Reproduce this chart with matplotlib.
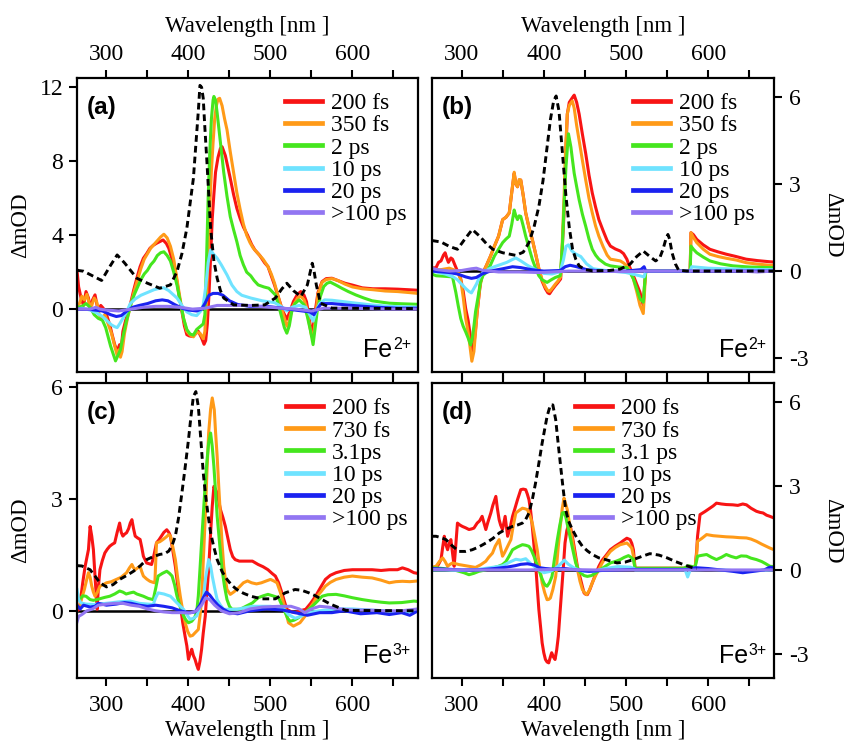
import matplotlib
matplotlib.use('Agg')
import matplotlib.pyplot as plt
from matplotlib.ticker import FixedLocator

plt.rcParams['font.family'] = 'Liberation Serif'
plt.rcParams['axes.unicode_minus'] = False

# ---------------- data (wavelength nm, dmOD) ----------------
labels_ab = ['200 fs', '350 fs', '2 ps', '10 ps', '20 ps', '>100 ps']
labels_c = ['200 fs', '730 fs', '3.1ps', '10 ps', '20 ps', '>100 ps']
labels_d = ['200 fs', '730 fs', '3.1 ps', '10 ps', '20 ps', '>100 ps']
colors = ['#f81414', '#ff9a18', '#45e61e', '#6fe3ff', '#1a22f0', '#9276f2']

# panel (a)
a_dash = [(264,2.1),(272,2.05),(283,1.8),(294,1.55),(304,2.3),(313,2.93),(322,2.5),(337,1.67),(350,1.4),(365,1.13),(378,1.31),(386,2.03),(392,3.0),(398,4.37),(406,7.07),(410,9.5),(412,10.7),(414,12.1),(416,12.0),(418,11.4),(420,9.8),(422.5,7.97),(427,4.37),(431,2.6),(435,1.67),(439,1.0),(443,0.6),(455,0.23),(476,0.2),(493,0.23),(506,0.6),(514,1.1),(520,1.4),(528,1.0),(537,0.68),(545,1.31),(549,2.1),(551,2.48),(553,2.1),(556,1.3),(561,0.32),(575,0.05),(680,0.03)]
a_200fs = [(264,2.1),(266,1.2),(269,0.6),(272,0.2),(275,0.95),(278,0.6),(280,0.05),(283,0.5),(286,0.77),(290,-0.13),(293,0.2),(296,0.05),(300,-0.3),(304,-0.85),(307,-1.4),(310,-1.92),(313,-2.28),(316,-1.92),(318,-2.1),(320,-1.2),(324,-0.5),(329,0.23),(333,1.0),(337,1.67),(341,2.3),(345,2.75),(349,3.0),(353,3.29),(357,3.45),(361,3.56),(365,3.65),(369,3.74),(373,3.55),(376,3.29),(380,2.7),(384,2.03),(388,0.9),(392,-0.13),(395,-0.9),(398,-1.38),(401,-1.45),(404,-1.47),(408,-1.35),(412,-1.2),(416,-1.56),(419,-1.9),(421,-1.7),(423,-0.8),(425,0.77),(427,2.8),(429,4.9),(431,6.2),(433,7.4),(436,8.2),(439,8.7),(441,8.78),(445,8.3),(451,7.07),(455,6.2),(459,5.45),(463,4.9),(467,4.44),(472,4.0),(477,3.5),(481,3.2),(487,2.9),(493,2.5),(497,2.3),(501,1.8),(505,1.3),(510,0.6),(515,-0.1),(520,-0.55),(524,-0.1),(528,0.41),(533,0.8),(537,0.95),(541,0.75),(544,0.4),(547,-0.4),(550,-1.3),(552,-1.0),(555,0.0),(558,0.9),(563,1.49),(568,1.65),(575,1.67),(582,1.55),(591,1.4),(600,1.3),(612,1.15),(625,1.1),(640,1.1),(655,1.08),(668,1.05),(680,1.02)]
a_350fs = [(264,0.2),(267,0.3),(270,0.7),(273,0.5),(276,0.8),(279,0.3),(282,0.2),(285,0.6),(288,0.4),(291,-0.3),(294,-0.5),(298,-0.3),(302,-0.8),(306,-1.3),(310,-2.0),(313,-2.5),(315,-2.2),(317,-2.6),(319,-2.3),(322,-1.3),(326,-0.4),(330,0.3),(334,1.0),(338,1.6),(342,2.2),(346,2.7),(350,3.0),(354,3.3),(358,3.5),(362,3.7),(366,3.9),(370,4.05),(374,3.85),(378,3.4),(382,2.7),(386,1.6),(390,0.5),(394,-0.5),(398,-1.2),(402,-1.4),(406,-1.5),(410,-1.25),(414,-1.3),(418,-1.6),(420,-1.2),(422,0.5),(424,3.0),(426,5.5),(428,7.5),(430,9.0),(432,10.3),(434,11.0),(436,11.35),(438,11.4),(441,11.0),(444,10.3),(447,9.7),(451,8.5),(455,7.4),(459,6.3),(463,5.4),(467,4.6),(471,4.0),(475,3.6),(479,3.3),(485,3.0),(491,2.7),(497,2.3),(501,1.9),(505,1.4),(510,0.6),(515,-0.2),(519,-0.8),(521,-0.95),(524,-0.4),(528,0.2),(533,0.6),(537,0.7),(541,0.5),(544,0.1),(547,-0.7),(550,-1.4),(552,-1.6),(555,-0.5),(558,0.8),(563,1.45),(568,1.6),(575,1.65),(582,1.55),(591,1.35),(600,1.2),(612,1.1),(625,1.05),(640,0.98),(655,0.95),(668,0.9),(680,0.85)]
a_2ps = [(264,0.1),(270,0.15),(275,0.3),(280,0.1),(285,-0.3),(290,-0.5),(295,-0.6),(299,-1.0),(302,-1.5),(305,-2.0),(308,-2.4),(311,-2.8),(314,-2.5),(317,-2.2),(320,-1.5),(324,-0.7),(330,0.3),(334,0.8),(338,1.2),(342,1.6),(346,1.9),(350,2.1),(354,2.4),(358,2.6),(362,2.9),(366,3.05),(370,3.1),(374,2.9),(378,2.6),(382,2.0),(386,1.3),(390,0.4),(394,-0.5),(398,-1.1),(402,-1.35),(406,-1.4),(410,-1.1),(414,-0.95),(418,-0.8),(420,-0.3),(422,2.6),(424,6.0),(426,8.5),(428,10.3),(430,11.3),(431,11.5),(433,11.3),(435,10.6),(437,9.8),(440,8.6),(443,7.4),(447,6.1),(451,5.0),(455,4.3),(459,3.65),(463,2.9),(467,2.4),(471,2.0),(476,1.8),(480,1.55),(485,1.31),(492,1.2),(498,1.13),(502,0.95),(506,0.77),(510,0.2),(514,-0.49),(517,-1.0),(520,-1.3),(523,-0.9),(526,-0.13),(530,0.3),(535,0.5),(541,0.23),(545,-0.4),(549,-1.2),(552,-1.92),(554,-1.2),(557,-0.13),(561,0.7),(565,1.22),(569,1.4),(573,1.46),(580,1.3),(587,1.13),(595,0.95),(604,0.77),(614,0.6),(624,0.45),(635,0.38),(645,0.32),(660,0.29),(673,0.27),(680,0.26)]
a_10ps = [(264,0.0),(270,0.05),(280,-0.05),(288,-0.2),(295,-0.4),(300,-0.6),(306,-0.85),(310,-0.95),(313,-1.0),(316,-0.8),(320,-0.5),(325,-0.1),(329,0.3),(335,0.55),(342,0.75),(350,0.9),(358,1.05),(365,1.13),(370,1.15),(376,1.0),(381,0.8),(386,0.6),(392,0.2),(398,-0.15),(404,-0.3),(410,-0.35),(415,-0.1),(418,0.23),(421,1.2),(424,2.5),(427,3.2),(430,3.0),(435,2.75),(440,2.4),(447,1.85),(453,1.3),(459,0.95),(465,0.75),(476,0.6),(490,0.45),(505,0.35),(513,0.15),(520,-0.1),(526,0.1),(535,0.2),(543,0.1),(548,-0.3),(552,-0.65),(555,-0.2),(560,0.3),(566,0.5),(575,0.48),(590,0.4),(605,0.32),(625,0.22),(645,0.15),(665,0.12),(680,0.1)]
a_20ps = [(264,0.0),(280,-0.02),(295,-0.1),(305,-0.3),(312,-0.4),(318,-0.35),(325,-0.1),(332,0.1),(340,0.2),(350,0.3),(360,0.45),(368,0.5),(375,0.45),(383,0.25),(392,0.05),(400,-0.05),(410,-0.1),(416,0.0),(420,0.3),(425,0.75),(430,0.85),(436,0.85),(442,0.75),(450,0.45),(460,0.25),(475,0.15),(495,0.15),(515,0.05),(530,-0.05),(548,-0.15),(553,-0.3),(557,0.0),(562,0.3),(575,0.3),(600,0.2),(630,0.1),(655,0.05),(680,0.05)]
a_100ps = [(264,0.0),(280,0.0),(287,0.1),(292,0.0),(300,-0.05),(315,-0.1),(330,0.0),(345,0.1),(360,0.15),(375,0.15),(390,0.1),(405,0.0),(420,0.05),(435,0.2),(450,0.2),(470,0.2),(500,0.1),(530,0.0),(550,-0.1),(565,0.05),(600,0.05),(640,0.0),(680,0.0)]

# panel (b)
b_dash = [(264,1.05),(275,1.0),(285,0.85),(295,0.75),(304,1.1),(313,1.43),(322,1.2),(330,0.95),(338,0.75),(350,0.63),(366,0.54),(375,0.65),(382,0.98),(388,1.5),(394,2.22),(399,3.1),(404,4.26),(408,5.2),(412,5.85),(415,6.02),(418.5,5.5),(422,4.3),(427,2.56),(431,1.5),(435,0.75),(439,0.4),(443,0.18),(450,0.05),(459,0.01),(480,0.02),(493,0.07),(505,0.24),(513,0.5),(521,0.69),(529,0.5),(536,0.35),(541,0.45),(545,0.75),(549,1.15),(551,1.26),(553,1.1),(556,0.63),(560,0.25),(564,0.03),(574,0.0),(680,0.0)]
b_200fs = [(264,0.1),(269,0.12),(272,0.3),(275,0.35),(278,0.55),(280,0.63),(282,0.45),(284,0.3),(287,0.45),(289,0.41),(292,0.2),(295,0.0),(299,-0.27),(302,-0.7),(305,-1.29),(308,-1.7),(310,-2.09),(312.5,-2.77),(315,-2.54),(317,-2.0),(319,-1.4),(321,-0.9),(323,-0.39),(326,-0.05),(330,0.18),(335,0.5),(340,0.86),(345,1.2),(350,1.77),(354,1.85),(358,2.0),(361,2.7),(364,3.36),(366,3.0),(368,2.9),(370,3.1),(372,3.13),(375,2.6),(378,2.0),(382,1.5),(386,1.09),(390,0.6),(394,0.07),(398,-0.35),(402,-0.61),(405,-0.75),(407,-0.78),(410,-0.65),(414,-0.5),(417,-0.4),(420.5,-0.27),(422.5,0.8),(424.6,2.0),(426.5,3.8),(428.6,5.4),(431,5.8),(434.7,5.96),(437,6.05),(440,5.8),(443,5.4),(447,4.7),(451,4.04),(455,3.3),(459,2.68),(463,2.2),(467,1.77),(472,1.4),(477,1.05),(481,0.86),(487,0.76),(493,0.69),(497,0.6),(501,0.41),(505,0.1),(509,-0.16),(513,-0.45),(517,-0.73),(521,-1.18),(522.5,-0.5),(524,0.0),(578,0.0),(579,1.32),(582,1.25),(586,1.09),(594,0.9),(602,0.75),(612,0.66),(622,0.58),(634,0.5),(646,0.41),(660,0.36),(675,0.32),(680,0.31)]
b_350fs = [(264,0.05),(275,0.05),(285,0.1),(295,0.0),(299,-0.3),(302,-0.9),(305,-1.63),(308,-2.1),(310,-2.54),(312.5,-3.1),(315,-2.77),(317,-2.1),(319,-1.4),(322,-0.6),(325,-0.16),(330,0.18),(335,0.5),(340,0.86),(345,1.2),(350,1.77),(354,1.85),(358,2.0),(361,2.7),(364,3.4),(366,3.0),(368,2.9),(370,3.15),(372,3.13),(375,2.6),(378,2.0),(382,1.5),(386,1.09),(390,0.6),(394,0.1),(398,-0.3),(402,-0.55),(405,-0.68),(407,-0.7),(410,-0.6),(414,-0.45),(417,-0.35),(420.5,-0.2),(422.5,1.0),(424.6,2.5),(426.5,4.2),(428.6,5.4),(431,5.7),(434.7,5.85),(437,5.6),(440,5.0),(443,4.49),(447,3.8),(451,3.13),(455,2.5),(459,2.0),(463,1.55),(467,1.2),(472,0.85),(477,0.55),(481,0.41),(487,0.38),(493,0.35),(497,0.28),(501,0.18),(505,0.0),(509,-0.27),(513,-0.7),(517,-1.18),(521,-1.46),(522.5,-0.73),(524,0.0),(578,0.0),(579,1.32),(582,1.15),(586,0.98),(594,0.75),(602,0.58),(612,0.5),(622,0.44),(634,0.38),(646,0.29),(660,0.24),(675,0.2),(680,0.2)]
b_2ps = [(264,-0.1),(269,-0.16),(280,-0.18),(289,-0.2),(293,-0.73),(296,-1.2),(299,-1.63),(302,-1.9),(305,-2.09),(308,-2.3),(311,-2.54),(313,-2.31),(315,-1.9),(317,-1.4),(320,-0.9),(323,-0.39),(326,-0.15),(330,-0.05),(335,0.2),(340,0.52),(345,0.75),(350,0.98),(354,1.1),(358,1.2),(361,1.6),(364,2.1),(366,1.9),(368,1.77),(370,1.9),(372,1.88),(375,1.55),(378,1.2),(382,0.8),(386,0.41),(390,0.1),(394,-0.16),(398,-0.3),(404,-0.39),(409,-0.3),(414,-0.22),(420,-0.16),(422.5,0.8),(424.6,2.22),(427,3.6),(430,4.72),(433,4.26),(435,3.8),(437,3.36),(440,2.9),(443,2.45),(447,1.95),(451,1.54),(455,1.1),(459,0.75),(463,0.55),(467,0.41),(475,0.24),(481,0.18),(491,0.14),(501,0.12),(505,-0.05),(509,-0.27),(513,-0.6),(517,-0.95),(521,-1.07),(522.5,-0.5),(524,0.0),(578,0.0),(579,0.86),(582,0.75),(586,0.63),(594,0.48),(602,0.35),(615,0.25),(630,0.18),(650,0.14),(675,0.12),(680,0.12)]
b_10ps = [(264,0.0),(280,-0.1),(290,-0.2),(295,-0.3),(300,-0.45),(305,-0.6),(309,-0.7),(312,-0.75),(315,-0.6),(318,-0.45),(322,-0.2),(326,-0.05),(335,0.1),(345,0.2),(355,0.3),(362,0.4),(366,0.45),(372,0.35),(380,0.2),(390,0.05),(400,-0.08),(410,-0.1),(420,-0.02),(424,0.4),(427,0.85),(430,0.9),(434,0.7),(438,0.6),(445,0.5),(452,0.25),(460,0.08),(475,0.02),(500,-0.05),(515,-0.15),(522,-0.2),(524,0.0),(578,0.0),(580,0.15),(600,0.1),(640,0.06),(680,0.05)]
b_20ps = [(264,0.0),(285,-0.05),(295,-0.1),(305,-0.2),(312,-0.25),(318,-0.22),(325,-0.1),(335,0.0),(350,0.08),(362,0.15),(372,0.12),(385,0.05),(400,0.0),(420,0.02),(426,0.15),(432,0.2),(440,0.15),(452,0.05),(470,0.0),(500,0.0),(518,0.05),(522,0.15),(524,0.0),(680,0.0)]
b_100ps = [(264,0.1),(270,0.05),(285,0.0),(300,0.02),(312,0.08),(318,0.1),(325,0.03),(345,-0.03),(370,-0.03),(395,-0.05),(410,-0.03),(430,0.0),(460,0.0),(500,-0.02),(524,0.0),(640,0.0),(660,-0.03),(680,0.0)]

# panel (c)
c_dash = [(264,1.21),(270,1.2),(280,1.1),(287,0.9),(292,0.75),(300,0.64),(308,0.7),(316,0.84),(325,0.95),(333,1.06),(341,1.2),(349,1.37),(357,1.45),(365,1.51),(371,1.53),(376,1.6),(380,1.75),(384,2.0),(388,2.5),(392,3.16),(396,3.85),(400,4.58),(403,5.2),(406,5.74),(409,5.87),(412,5.47),(414,4.9),(416,4.31),(418,3.7),(420.5,3.16),(424,2.55),(427,2.09),(431,1.7),(435,1.37),(441,1.05),(447,0.84),(453,0.68),(459,0.57),(467,0.47),(476,0.39),(489,0.32),(506,0.32),(518,0.48),(530,0.57),(538,0.55),(547,0.48),(555,0.4),(563,0.3),(573,0.18),(584,0.08),(592,0.01),(680,0.0)]
c_200fs = [(264,0.0),(267,0.04),(269,0.4),(271,0.75),(274,1.2),(278,1.64),(280,2.26),(282,2.0),(284,1.64),(286.5,0.75),(288.6,0.04),(290,0.6),(292,1.1),(295,1.35),(298,1.55),(301,1.65),(304,1.73),(307,1.78),(310,1.82),(313,2.1),(316,2.35),(318,2.1),(320,2.0),(322,2.05),(324.5,2.09),(327,2.2),(329,2.35),(331,2.44),(333,2.2),(335,2.0),(338,1.95),(341,1.91),(343,1.7),(345,1.46),(349,1.28),(352,1.26),(355,1.24),(358,1.5),(361,1.82),(364,1.9),(367,2.0),(370,2.1),(373.5,2.17),(376,2.1),(378,2.0),(381,1.6),(384,1.19),(388,0.48),(393,-0.32),(396,-0.7),(398,-0.94),(400,-1.3),(402,-1.15),(404,-1.03),(406,-1.2),(408,-1.3),(410,-1.45),(412,-1.57),(414,-1.35),(416,-1.03),(418,-0.6),(420.5,-0.14),(422.5,0.5),(424.6,1.1),(427,2.09),(429,2.8),(431,3.33),(433,3.25),(435,3.16),(439,2.71),(442,2.5),(445,2.26),(448,1.95),(451,1.64),(454,1.45),(457,1.37),(462,1.33),(467,1.33),(472,1.33),(478,1.33),(485,1.24),(491,1.18),(497,1.1),(502,1.0),(506,0.93),(510,0.75),(514,0.48),(517,0.25),(520,0.04),(525,-0.02),(530,-0.05),(536,0.0),(543,0.04),(549,0.2),(555,0.39),(561,0.62),(567,0.84),(573,0.95),(580,1.02),(590,1.08),(600,1.1),(612,1.1),(624,1.1),(635,1.08),(645,1.1),(655,1.1),(661,1.15),(668,1.1),(675,1.02),(680,1.0)]
c_730fs = [(264,0.1),(267,0.12),(270,0.35),(273,0.57),(276,0.85),(278,1.02),(280,0.9),(282,0.66),(284,0.5),(286,0.39),(289,0.5),(292,0.66),(296,0.7),(300,0.75),(306,0.78),(312,0.84),(318,0.9),(324.5,1.02),(328,1.15),(331,1.24),(333,1.15),(335,1.1),(338,1.15),(341,1.19),(343,1.05),(345,0.93),(349,0.85),(353,0.79),(357,0.76),(359,0.75),(361,1.82),(365,1.85),(369,1.91),(373,1.98),(376,2.04),(378,2.0),(381,1.7),(384,1.37),(387,0.85),(390,0.39),(393,0.0),(396,-0.32),(399,-0.55),(402,-0.68),(405,-0.66),(408,-0.59),(412,-0.5),(414,-0.15),(416,0.3),(418,1.3),(420.5,2.53),(422.5,3.7),(424.6,4.76),(427,5.4),(429,5.7),(431.5,5.38),(433,4.8),(435,4.13),(437,3.3),(439,2.53),(441,1.8),(443,1.19),(445,0.85),(447,0.57),(451,0.44),(455,0.5),(459,0.57),(463,0.66),(467,0.75),(472,0.8),(477,0.75),(483,0.72),(489,0.75),(495,0.8),(500,0.84),(504,0.8),(508,0.75),(512,0.5),(516,0.21),(519,-0.05),(522,-0.32),(528,-0.41),(536,-0.32),(542,-0.15),(547,0.04),(552,0.2),(557,0.39),(562,0.52),(567,0.66),(573,0.76),(580,0.84),(590,0.9),(600,0.93),(612,0.9),(624,0.88),(635,0.82),(645,0.75),(653,0.78),(661,0.79),(670,0.78),(680,0.8)]
c_3ps = [(264,0.3),(267,0.3),(271,0.4),(275,0.39),(280,0.3),(284,0.28),(288,0.3),(293,0.33),(298,0.36),(304,0.39),(310,0.45),(316,0.53),(320,0.5),(324,0.45),(329,0.48),(333,0.5),(337,0.45),(341,0.42),(345,0.39),(351,0.33),(357,0.3),(360,0.6),(363,0.93),(368,1.0),(373.5,1.06),(377,1.0),(380,0.93),(383,0.7),(386,0.39),(390,0.1),(394,-0.14),(397,-0.25),(400,-0.32),(404,-0.28),(407,-0.2),(410,-0.05),(412,0.4),(414,1.1),(417,2.2),(420.5,3.42),(422.5,4.0),(424.6,4.49),(427,4.76),(429,4.4),(431,3.87),(433,3.2),(435,2.53),(438,1.8),(441,1.1),(444,0.65),(447,0.3),(450,0.12),(453,0.04),(463,0.04),(470,0.12),(478,0.21),(485,0.35),(491,0.4),(497,0.44),(503,0.4),(510,0.35),(514,0.15),(518,-0.05),(521,-0.2),(524,-0.28),(529,-0.25),(534,-0.19),(542,-0.05),(551,0.12),(557,0.25),(563,0.39),(570,0.43),(580,0.44),(590,0.4),(600,0.35),(612,0.3),(624,0.26),(635,0.23),(645,0.21),(660,0.22),(675,0.26),(680,0.25)]
c_10ps = [(264,0.57),(266,0.3),(269,0.21),(275,0.18),(284,0.17),(295,0.19),(304,0.21),(315,0.24),(329,0.26),(340,0.2),(350,0.18),(357,0.17),(360,0.35),(363,0.48),(370,0.45),(378,0.39),(386,0.21),(394,0.04),(398,-0.1),(402,-0.23),(406,-0.2),(410,-0.14),(414,0.1),(418.5,0.39),(421,0.9),(424.6,1.37),(427,1.2),(429,0.93),(432,0.6),(435,0.3),(439,0.15),(443,0.04),(459,0.04),(478,0.12),(500,0.12),(515,0.08),(522,-0.1),(530,-0.2),(537,-0.15),(545,-0.05),(560,0.0),(580,0.05),(600,0.05),(620,0.02),(640,0.0),(660,-0.05),(680,0.0)]
c_20ps = [(264,0.15),(268,0.05),(272,0.15),(280,0.1),(286,0.12),(290,0.2),(300,0.15),(312,0.18),(322,0.22),(330,0.2),(340,0.15),(350,0.12),(360,0.15),(370,0.12),(380,0.08),(390,0.0),(400,-0.05),(408,-0.03),(414,0.15),(418,0.35),(422,0.5),(426,0.42),(430,0.3),(436,0.15),(442,0.05),(450,-0.05),(460,-0.08),(475,0.0),(495,0.05),(515,0.02),(530,-0.05),(545,-0.12),(560,-0.05),(575,-0.05),(590,0.0),(610,-0.08),(630,-0.05),(645,-0.1),(660,-0.05),(670,-0.12),(680,0.0)]
c_100ps = [(264,-0.3),(266,-0.15),(270,-0.1),(276,0.0),(283,0.05),(290,0.15),(300,0.18),(310,0.2),(320,0.2),(330,0.15),(340,0.12),(350,0.05),(360,0.0),(370,-0.03),(380,-0.05),(392,-0.05),(402,-0.06),(410,0.0),(416,0.15),(421,0.35),(426,0.3),(432,0.15),(440,0.0),(450,-0.08),(462,-0.05),(475,0.05),(490,0.1),(510,0.12),(525,0.12),(535,0.05),(542,-0.05),(550,0.05),(560,0.12),(570,0.1),(585,0.05),(600,0.02),(620,0.02),(640,0.0),(660,0.0),(680,0.05)]

# panel (d)
d_dash = [(264,1.2),(269,1.2),(275,1.15),(281,1.08),(289,0.85),(297,0.66),(305,0.66),(313,0.72),(321,0.82),(329.5,0.96),(338,1.12),(346,1.32),(354,1.45),(362,1.55),(368,1.6),(374,1.67),(378,1.8),(382,2.03),(386,2.5),(390,3.1),(394,3.8),(398,4.52),(401,5.0),(404,5.47),(408,5.88),(411,5.88),(414.5,5.35),(417.5,4.5),(420.5,3.69),(423.5,2.9),(426.6,2.15),(430,1.75),(434.7,1.44),(441,1.1),(447,0.84),(453,0.68),(459,0.55),(467,0.43),(475,0.37),(489,0.25),(499,0.28),(509,0.37),(519,0.48),(529,0.58),(540,0.53),(550,0.43),(560,0.3),(570,0.19),(580,0.09),(586,0.05)]
d_200fs = [(264,0.05),(269,0.07),(272,0.2),(275,0.37),(277,0.8),(279,1.2),(281,0.9),(283,0.72),(285,0.95),(287,1.08),(289,0.6),(291,0.13),(293,0.9),(295,1.67),(298,1.6),(301,1.55),(305,1.5),(309,1.44),(312,1.46),(315,1.49),(319,1.67),(322,1.75),(325,1.91),(327,1.7),(329.5,1.44),(332,1.7),(335.6,2.03),(338,2.3),(341.7,2.62),(343.5,2.2),(345.7,1.79),(347.5,1.6),(349.8,1.44),(353,1.91),(356,1.2),(359,1.5),(362,1.91),(365,2.2),(368,2.5),(372,2.86),(375,2.88),(378,2.86),(380,2.7),(382,2.5),(384,2.1),(386,1.55),(388,0.9),(390,0.25),(392,-0.6),(394,-1.41),(396,-2.0),(398,-2.6),(400,-2.95),(402,-3.19),(404,-3.28),(406,-3.31),(408,-3.1),(409.6,-2.95),(411.7,-3.1),(413.7,-3.19),(415.7,-2.85),(417.7,-2.36),(419.8,-1.5),(421.8,-0.7),(423.8,0.1),(425.8,0.96),(428,1.4),(430.7,1.67),(432.7,1.5),(434.7,1.2),(436.8,0.85),(438.8,0.49),(441,0.1),(444.8,-0.34),(447,-0.6),(449,-0.82),(451,-0.87),(453,-0.88),(456,-0.7),(459,-0.46),(463,-0.15),(467,0.13),(471,0.35),(475,0.49),(481,0.72),(487,0.85),(493,0.96),(497,1.05),(501,1.13),(505,1.08),(507,0.95),(509,0.72),(511,0.06),(584,0.06),(586,0.7),(587,1.2),(590,1.97),(596,2.08),(602,2.2),(606,2.28),(610,2.38),(616,2.35),(622,2.33),(630,2.32),(636,2.3),(642,2.35),(646.5,2.32),(652,2.2),(658.6,2.09),(663,2.05),(666.7,2.03),(671,1.95),(675,1.91),(680,1.85)]
d_730fs = [(264,0.1),(269,0.13),(273,0.3),(277,0.43),(280,0.3),(283,0.13),(286,0.2),(289,0.25),(293,0.22),(297,0.19),(303,0.16),(309,0.13),(317,0.09),(323,0.18),(329.5,0.31),(333,0.45),(337.6,0.6),(341,0.85),(345.7,1.08),(347.5,0.8),(349.8,0.49),(352,0.6),(354,0.72),(357,0.9),(360,1.08),(363,1.6),(366,2.03),(370,2.12),(374,2.2),(377,2.18),(380,2.15),(383,1.95),(386,1.67),(389,1.2),(392,0.72),(395,0.1),(398,-0.46),(401,-0.8),(404,-1.06),(406,-1.05),(408,-1.0),(411,-0.7),(414.5,-0.23),(417.5,0.8),(420.5,1.67),(422.5,2.2),(424.6,2.56),(426.6,2.35),(428.6,2.15),(431.5,1.6),(434.7,1.08),(438,0.5),(441,0.01),(444,-0.4),(447,-0.7),(450,-0.82),(452,-0.88),(455,-0.75),(459,-0.46),(463,-0.2),(467,0.01),(471,0.25),(475,0.43),(481,0.66),(487,0.8),(493,0.9),(497,0.93),(501,0.96),(504,0.88),(507,0.78),(509,0.5),(511,0.06),(584,0.06),(586,0.6),(587,1.02),(592,1.12),(598,1.26),(606,1.22),(614,1.2),(622,1.18),(630,1.17),(638,1.15),(646.5,1.14),(652,1.1),(658.6,1.02),(665,0.92),(670,0.85),(675,0.78),(680,0.72)]
d_3ps = [(264,0.07),(270,0.07),(278,0.05),(285,0.01),(291,0.0),(297,-0.05),(303,-0.1),(309,-0.17),(315,-0.12),(321,-0.05),(329,0.0),(337.6,0.07),(344,0.12),(349.8,0.19),(354,0.3),(358,0.5),(362,0.72),(368,0.82),(374,0.9),(378,0.88),(382,0.84),(385,0.7),(388,0.49),(391,0.25),(394,0.01),(397,-0.25),(400,-0.46),(402,-0.55),(404,-0.58),(407,-0.45),(410,-0.23),(413,0.4),(416.5,1.08),(419.5,1.6),(422.6,2.03),(424.6,2.05),(426.6,1.91),(429.5,1.5),(432.7,1.08),(435.8,0.65),(438.8,0.25),(441.8,0.02),(444.8,-0.11),(449,-0.2),(453,-0.23),(458,-0.2),(463,-0.11),(469,0.02),(475,0.13),(481,0.25),(487,0.3),(493,0.37),(498,0.45),(503,0.51),(506,0.45),(509,0.37),(511,0.06),(570,0.06),(576,0.15),(584,0.1),(586,0.35),(587,0.49),(592,0.52),(598,0.55),(604,0.45),(610,0.37),(616,0.45),(622,0.55),(628,0.48),(634,0.43),(640,0.5),(646.5,0.49),(652,0.42),(658.6,0.37),(665,0.3),(670,0.22),(675,0.13),(680,0.12)]
d_10ps = [(264,0.0),(280,0.0),(300,-0.02),(320,0.02),(335,0.08),(350,0.15),(360,0.3),(366,0.38),(372,0.35),(378,0.4),(385,0.2),(392,0.05),(400,-0.1),(408,-0.05),(414,0.05),(420,0.2),(425,0.35),(430,0.2),(438,0.05),(448,-0.05),(460,-0.05),(475,0.05),(490,0.12),(505,0.1),(510,0.05),(511,0.0),(572,0.0),(575,-0.25),(578,0.0),(600,0.02),(620,0.0),(640,-0.05),(660,-0.02),(680,0.0)]
d_20ps = [(264,0.05),(280,0.03),(300,0.0),(320,0.0),(340,0.05),(355,0.1),(365,0.15),(372,0.2),(380,0.22),(388,0.18),(395,0.08),(402,0.05),(410,0.03),(425,0.05),(440,0.0),(455,-0.05),(470,-0.02),(490,0.0),(510,0.02),(575,0.02),(585,0.08),(600,0.05),(615,0.0),(630,-0.05),(642,-0.1),(655,-0.05),(668,0.0),(675,0.1),(680,0.08)]
d_100ps = [(264,0.02),(300,0.0),(340,0.0),(380,0.0),(420,0.02),(460,0.0),(520,0.0),(580,0.0),(640,0.0),(680,0.0)]


def draw_panel(ax, series, labels, dash, ylim, yticks, right, top, letter, charge, legx):
    ax.axhline(0, color='k', lw=1.8, zorder=1)
    for pts, lab, col in zip(series, labels, colors):
        wl, v = zip(*pts)
        ax.plot(wl, v, color=col, lw=2.2, label=lab, zorder=2)
    wl, v = zip(*dash)
    ax.plot(wl, v, color='k', lw=2.1, ls=(0, (2.3, 1.4)), zorder=3)

    ax.set_xlim(264, 680)
    ax.set_ylim(*ylim)
    ax.xaxis.set_major_locator(FixedLocator([300, 400, 500, 600]))
    ax.xaxis.set_minor_locator(FixedLocator([350, 450, 550, 650]))
    ax.yaxis.set_major_locator(FixedLocator(yticks))
    for sp in ax.spines.values():
        sp.set_linewidth(1.6)

    if top:
        ax.tick_params(axis='x', which='both', direction='out', top=True, bottom=False,
                       labeltop=True, labelbottom=False, length=6, width=1.5, labelsize=17, pad=3)
        ax.xaxis.set_label_position('top')
        ax.set_xlabel('Wavelength [nm ]', fontsize=16.5, labelpad=9)
    else:
        ax.tick_params(axis='x', which='both', direction='out', top=False, bottom=True,
                       labeltop=False, labelbottom=True, length=6, width=1.5, labelsize=17, pad=6)
        ax.set_xlabel('Wavelength [nm ]', fontsize=16.5, labelpad=3)

    if right:
        ax.tick_params(axis='y', direction='out', left=False, right=True, labelleft=False,
                       labelright=True, length=6, width=1.5, labelsize=17, pad=5)
        ax.yaxis.set_label_position('right')
        ax.set_ylabel('ΔmOD', fontsize=16.5, rotation=270)
        ax.yaxis.set_label_coords(1.17, 0.5)
    else:
        ax.tick_params(axis='y', direction='out', length=6, width=1.5, labelsize=17, pad=4)
        ax.set_ylabel('ΔmOD', fontsize=16.5)
        ax.yaxis.set_label_coords(-0.164, 0.5)
    ax.yaxis.label.set_verticalalignment('center')
    ax.yaxis.label.set_horizontalalignment('center')

    ax.text(0.03, 0.90, letter, transform=ax.transAxes, fontfamily='Liberation Sans',
            fontweight='bold', fontsize=17.5, va='center', ha='left')
    ax.text(0.924, 0.05, 'Fe', transform=ax.transAxes, fontfamily='Liberation Sans',
            fontsize=18, va='baseline', ha='right')
    ax.text(0.926, 0.078, charge, transform=ax.transAxes, fontfamily='Liberation Sans',
            fontsize=11.5, va='baseline', ha='left')

    leg = ax.legend(loc='upper left', bbox_to_anchor=(legx, 0.95), frameon=False, fontsize=17,
                    handlelength=1.55, handletextpad=0.4, labelspacing=0.03,
                    borderpad=0, borderaxespad=0)
    for ln in leg.get_lines():
        ln.set_linewidth(3.4)


fig = plt.figure(figsize=(8.46, 7.44), dpi=100)
ax_a = fig.add_axes([0.0910, 0.5, 0.4031, 0.3952])
ax_b = fig.add_axes([0.5106, 0.5, 0.4043, 0.3952])
ax_c = fig.add_axes([0.0910, 0.0887, 0.4031, 0.3965])
ax_d = fig.add_axes([0.5106, 0.0887, 0.4043, 0.3965])

draw_panel(ax_a, [a_200fs, a_350fs, a_2ps, a_10ps, a_20ps, a_100ps], labels_ab, a_dash,
           (-3.4, 12.5), [0, 4, 8, 12], False, True, '(a)', '2+', 0.61)
draw_panel(ax_b, [b_200fs, b_350fs, b_2ps, b_10ps, b_20ps, b_100ps], labels_ab, b_dash,
           (-3.47, 6.64), [-3, 0, 3, 6], True, True, '(b)', '2+', 0.588)
draw_panel(ax_c, [c_200fs, c_730fs, c_3ps, c_10ps, c_20ps, c_100ps], labels_c, c_dash,
           (-1.8, 6.1), [0, 3, 6], False, False, '(c)', '3+', 0.613)
draw_panel(ax_d, [d_200fs, d_730fs, d_3ps, d_10ps, d_20ps, d_100ps], labels_d, d_dash,
           (-3.85, 6.66), [-3, 0, 3, 6], True, False, '(d)', '3+', 0.418)

# short outward ticks in the gap between the upper and lower rows
for ax in (ax_a, ax_b):
    ax.tick_params(axis='x', which='both', bottom=True, length=6)
for ax in (ax_c, ax_d):
    ax.tick_params(axis='x', which='both', top=True)

fig.savefig('out.png', dpi=100)
